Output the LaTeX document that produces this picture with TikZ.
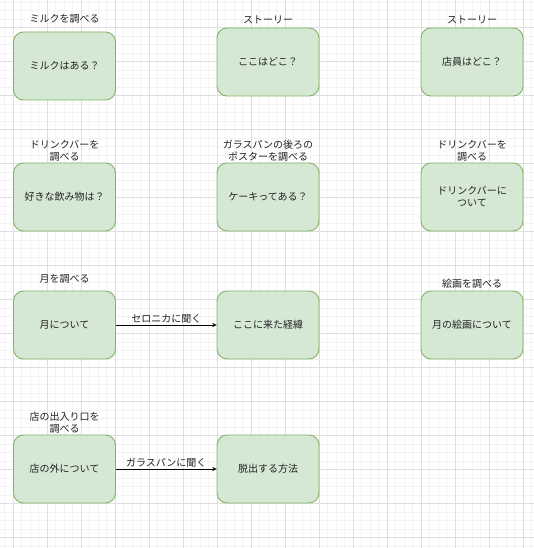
\documentclass[tikz,border=0pt]{standalone}
\usepackage{fontspec}
\newfontfamily\jpfont{Noto Sans CJK JP}
\usetikzlibrary{arrows,positioning}

\definecolor{boxfill}{HTML}{D5E8D4}
\definecolor{boxline}{HTML}{82B366}
\definecolor{gridmajor}{HTML}{DFDFDF}
\definecolor{gridminor}{HTML}{F3F3F3}
\definecolor{txt}{HTML}{222222}

\tikzset{
	box/.style={draw=boxline, fill=boxfill, line width=0.9pt, rounded corners=10pt,
		minimum width=102pt, minimum height=68pt, align=center,
		font=\jpfont\fontsize{10}{12}\selectfont, text=txt},
	tag/.style={align=center, inner sep=0pt, font=\jpfont\fontsize{10}{12}\selectfont, text=txt},
	edgetag/.style={above, inner sep=1.5pt, font=\jpfont\fontsize{10}{12}\selectfont, text=txt}
}

\begin{document}
\begin{tikzpicture}[>=stealth, x=1pt, y=-1pt]
	\useasboundingbox (0,0) rectangle (534,548);
	\fill[white] (0,0) rectangle (534,548);
	% grid
	\foreach \i in {0,...,65}{
		\draw[gridminor, line width=0.8pt] ({-3.7+8.5*\i},0) -- ({-3.7+8.5*\i},548);
		\draw[gridminor, line width=0.8pt] (0,{-6.3+8.5*\i}) -- (534,{-6.3+8.5*\i});
	}
	\foreach \i in {0,...,16}{
		\draw[gridmajor, line width=0.8pt] ({13.3+34*\i},0) -- ({13.3+34*\i},548);
		\draw[gridmajor, line width=0.8pt] (0,{-6.3+34*\i}) -- (534,{-6.3+34*\i});
	}

	% row 1
	\node[box] (milk) at (64.5,66) {ミルクはある？};
	\node[tag] (lmilk) at (64.5,19) {ミルクを調べる};
	\node[box] (story) at (268,62) {ここはどこ？};
	\node[tag] (lstory) at (268,20) {ストーリー};
	\node[box] (clerk) at (472,62) {店員はどこ？};
	\node[tag] (lclerk) at (472,20) {ストーリー};

	% row 2
	\node[box] (drink) at (64.5,197) {好きな飲み物は？};
	\node[tag] (ldrink) at (64.5,151) {ドリンクバーを\\調べる};
	\node[box] (cake) at (268,197) {ケーキってある？};
	\node[tag] (lcake) at (268,151) {ガラスパンの後ろの\\ポスターを調べる};
	\node[box] (drinkbar) at (472,197) {ドリンクバーに\\ついて};
	\node[tag] (ldrinkbar) at (472,151) {ドリンクバーを\\調べる};

	% row 3
	\node[box] (moon) at (64.5,325) {月について};
	\node[tag] (lmoon) at (64.5,279) {月を調べる};
	\node[box] (came) at (268,325) {ここに来た経緯};
	\node[box] (painting) at (472,325) {月の絵画について};
	\node[tag] (lpainting) at (472,284) {絵画を調べる};
	\draw[->, line width=0.9pt] (moon.east) -- node[edgetag] {セロニカに聞く} (came.west);

	% row 4
	\node[box] (outside) at (64.5,469) {店の外について};
	\node[tag] (loutside) at (64.5,423) {店の出入り口を\\調べる};
	\node[box] (escape) at (268,469) {脱出する方法};
	\draw[->, line width=0.9pt] (outside.east) -- node[edgetag] {ガラスパンに聞く} (escape.west);
\end{tikzpicture}
\end{document}
